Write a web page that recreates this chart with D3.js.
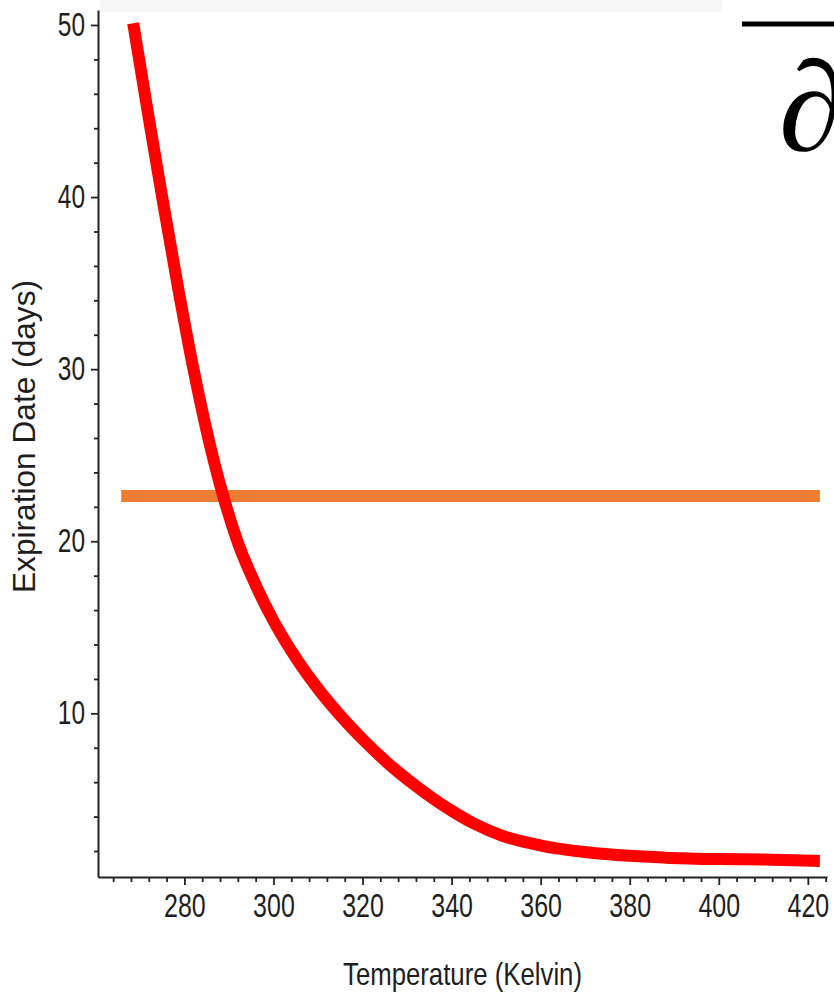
<!DOCTYPE html>
<html>
<head>
<meta charset="utf-8">
<script src="https://cdn.jsdelivr.net/npm/d3@7"></script>
<style>
  body { margin: 0; background: #fff; }
  svg { display: block; }
</style>
</head>
<body>
<svg id="chart" width="834" height="994"></svg>
<script>
// Shelf life versus storage temperature
const temperatures = [268.5, 272, 275, 278.5, 282, 285.4, 288.75, 291.9, 296, 300, 305.35, 310, 315,
                      320, 325.5, 332, 339.7, 345, 351.6, 360, 370.4, 380, 389, 400, 410, 422.7];
const expirationDays = [50.1, 44.6, 40.0, 34.85, 30.05, 25.97, 22.6, 20.0, 17.46, 15.38, 13.1, 11.43, 9.88,
                        8.5, 7.15, 5.78, 4.39, 3.6, 2.87, 2.32, 1.93, 1.72, 1.6, 1.53, 1.5, 1.42];

// Constant reference level
const referenceRange = [265.8, 422.7];
const referenceDays = 22.63;

// Axis ticks
const xMajorTicks = [280, 300, 320, 340, 360, 380, 400, 420];
const xMinorTicks = d3.range(264, 425, 4).filter(v => v % 20 !== 0);
const yMajorTicks = [10, 20, 30, 40, 50];
const yMinorTicks = d3.range(2, 51, 2).filter(v => v % 10 !== 0);

const xTitle = "Temperature (Kelvin)";
const yTitle = "Expiration Date (days)";

const sans = "'Liberation Sans', Arial, sans-serif";
const ink = "#1e1e1e";

const svg = d3.select("#chart");

// faint strip along the top edge
svg.append("rect").attr("x", 100).attr("y", 0).attr("width", 622).attr("height", 12).attr("fill", "#f6f6f6");

const x = d3.scaleLinear().domain([260.6, 424.3]).range([98, 827]);
const y = d3.scaleLinear().domain([0.49, 50.87]).range([877, 10]);

// minor ticks
svg.append("g").attr("transform", `translate(0,${y.range()[0]})`)
  .call(d3.axisBottom(x).tickValues(xMinorTicks).tickSize(5).tickSizeOuter(0).tickFormat(""))
  .call(g => g.select(".domain").remove());
svg.append("g").attr("transform", `translate(${x.range()[0]},0)`)
  .call(d3.axisLeft(y).tickValues(yMinorTicks).tickSize(4).tickSizeOuter(0).tickFormat(""))
  .call(g => g.select(".domain").remove());

// x axis with major ticks
const gx = svg.append("g").attr("transform", `translate(0,${y.range()[0]})`)
  .call(d3.axisBottom(x).tickValues(xMajorTicks).tickSize(8).tickSizeOuter(0).tickFormat(d3.format("d")));
gx.selectAll("text")
  .attr("y", 40).attr("dy", 0)
  .attr("textLength", d => String(d).length * 13.9)
  .attr("lengthAdjust", "spacingAndGlyphs");

// y axis with major ticks
const gy = svg.append("g").attr("transform", `translate(${x.range()[0]},0)`)
  .call(d3.axisLeft(y).tickValues(yMajorTicks).tickSize(7).tickPadding(6).tickSizeOuter(0).tickFormat(d3.format("d")));
gy.selectAll("text")
  .attr("textLength", d => String(d).length * 13.6)
  .attr("lengthAdjust", "spacingAndGlyphs");

svg.selectAll(".tick line").attr("stroke", "#222").attr("stroke-width", 1.8);
svg.selectAll(".domain").attr("stroke", "#222").attr("stroke-width", 2);
svg.selectAll(".tick text")
  .style("font-family", sans).style("font-size", "33px").style("fill", ink);

// axis titles
svg.append("text")
  .attr("x", 462.5).attr("y", 985)
  .attr("text-anchor", "middle")
  .style("font-family", sans).style("font-size", "32px").style("fill", ink)
  .attr("textLength", 239).attr("lengthAdjust", "spacingAndGlyphs")
  .text(xTitle);
svg.append("text")
  .attr("transform", "translate(35,436.5) rotate(-90)")
  .attr("text-anchor", "middle")
  .style("font-family", sans).style("font-size", "31px").style("fill", ink)
  .attr("textLength", 313).attr("lengthAdjust", "spacingAndGlyphs")
  .text(yTitle);

// reference level
svg.append("line")
  .attr("x1", x(referenceRange[0])).attr("x2", x(referenceRange[1]))
  .attr("y1", y(referenceDays)).attr("y2", y(referenceDays))
  .attr("stroke", "#ED7D31").attr("stroke-width", 12);

// expiration curve
const points = temperatures.map((t, i) => [t, expirationDays[i]]);
svg.append("path")
  .datum(points)
  .attr("fill", "none")
  .attr("stroke", "#FF0000")
  .attr("stroke-width", 12)
  .attr("d", d3.line().x(d => x(d[0])).y(d => y(d[1])).curve(d3.curveMonotoneX));

// partial-derivative symbol under a fraction bar, cut by the right edge
svg.append("line").attr("x1", 742).attr("x2", 834).attr("y1", 24).attr("y2", 24)
  .attr("stroke", "#000").attr("stroke-width", 5);
svg.append("text")
  .attr("x", 779).attr("y", 150)
  .style("font-family", "'Liberation Serif', 'Times New Roman', serif")
  .style("font-size", "128px")
  .style("fill", "#000")
  .text("∂");
</script>
</body>
</html>
